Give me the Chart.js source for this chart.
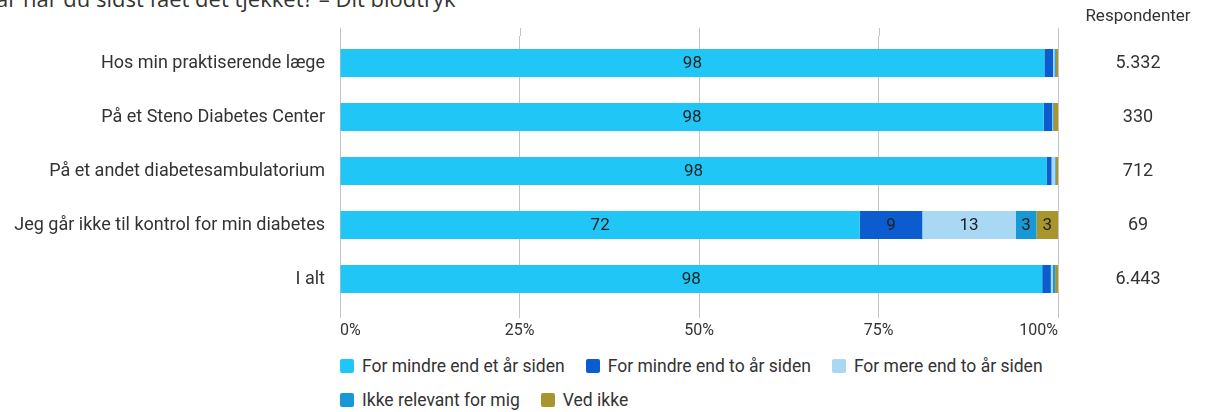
<!DOCTYPE html>
<html lang="da">
<head>
    <meta charset="UTF-8">
    <title>Kontrol - stablet søjlediagram</title>
    <script src="https://cdn.jsdelivr.net/npm/chart.js"></script>
    <style>
        body { margin: 0; background: #fff; overflow: hidden; }
        #wrap { position: relative; width: 1206px; height: 412px; }
        #heading {
            position: absolute; left: -4px; top: -17px; margin: 0;
            font: 22px "Open Sans", sans-serif; color: #333; white-space: nowrap;
        }
        #chart { position: absolute; left: 0; top: 0; }
        #legend {
            position: absolute; left: 340px; top: 349px; width: 760px;
            display: flex; flex-wrap: wrap;
            font: 17.5px Roboto, sans-serif; color: #333;
        }
        .item { display: flex; align-items: center; height: 34px; margin-right: 21px; }
        .box { width: 14px; height: 14px; border-radius: 2px; margin-right: 8px; }
    </style>
</head>
<body>
    <div id="wrap">
        <p id="heading">år har du sidst fået det tjekket? – Dit blodtryk</p>
        <canvas id="chart" width="1206" height="340"></canvas>
        <div id="legend"></div>
    </div>

    <script>
        // data
        const categories = [
            'Hos min praktiserende læge',
            'På et Steno Diabetes Center',
            'På et andet diabetesambulatorium',
            'Jeg går ikke til kontrol for min diabetes',
            'I alt'
        ];
        const seriesNames = [
            'For mindre end et år siden',
            'For mindre end to år siden',
            'For mere end to år siden',
            'Ikke relevant for mig',
            'Ved ikke'
        ];
        const underEtAar = [98.1, 98.0, 98.4, 72.4, 97.8];
        const underToAar = [1.2, 1.2, 0.7, 8.7, 1.2];
        const overToAar = [0.2, 0.1, 0.5, 13.0, 0.3];
        const ikkeRelevant = [0.2, 0.1, 0.1, 2.9, 0.3];
        const vedIkke = [0.3, 0.6, 0.3, 3.0, 0.4];
        const respondenter = [5332, 330, 712, 69, 6443];
        const xTicks = [0, 25, 50, 75, 100];

        const colors = ['#20c6f6', '#0b5dcf', '#a9d8f4', '#1898d4', '#a8952e'];
        const values = [underEtAar, underToAar, overToAar, ikkeRelevant, vedIkke];

        const fontFamily = 'Roboto, sans-serif';
        const textColor = '#333';

        function formatDk(n) {
            return String(n).replace(/\B(?=(\d{3})+(?!\d))/g, '.');
        }

        // forklaring under grafen
        const legendEl = document.getElementById('legend');
        seriesNames.forEach((name, i) => {
            const item = document.createElement('div');
            item.className = 'item';
            const box = document.createElement('span');
            box.className = 'box';
            box.style.background = colors[i];
            item.appendChild(box);
            item.appendChild(document.createTextNode(name));
            legendEl.appendChild(item);
        });

        // tal inde i søjlerne + respondentkolonne + små streger over grafen
        const extras = {
            id: 'extras',
            afterDatasetsDraw(chart) {
                const ctx = chart.ctx;
                ctx.save();
                ctx.font = '17px ' + fontFamily;
                ctx.fillStyle = '#222';
                ctx.textAlign = 'center';
                ctx.textBaseline = 'middle';
                chart.data.datasets.forEach((ds, i) => {
                    const meta = chart.getDatasetMeta(i);
                    meta.data.forEach((bar, j) => {
                        const v = ds.data[j];
                        if (v < 2.5) return;
                        const p = bar.getProps(['x', 'y', 'base']);
                        ctx.fillText(Math.round(v), (p.x + p.base) / 2, p.y + 1);
                    });
                });
                ctx.restore();
            },
            afterDraw(chart) {
                const ctx = chart.ctx;
                const area = chart.chartArea;
                const xs = chart.scales.x;
                const ys = chart.scales.y;
                ctx.save();
                ctx.strokeStyle = '#c4c4c4';
                ctx.lineWidth = 1;
                xTicks.forEach(t => {
                    const x = Math.round(xs.getPixelForValue(t)) + 0.5;
                    ctx.beginPath();
                    ctx.moveTo(x, area.top - 8);
                    ctx.lineTo(x, area.top);
                    ctx.stroke();
                });
                const colX = 1138;
                ctx.fillStyle = textColor;
                ctx.textAlign = 'center';
                ctx.textBaseline = 'middle';
                ctx.font = '17px ' + fontFamily;
                ctx.fillText('Respondenter', colX, 17);
                ctx.font = '18px ' + fontFamily;
                respondenter.forEach((n, j) => {
                    ctx.fillText(formatDk(n), colX, ys.getPixelForValue(j));
                });
                ctx.restore();
            }
        };

        new Chart(document.getElementById('chart'), {
            type: 'bar',
            data: {
                labels: categories,
                datasets: seriesNames.map((name, i) => ({
                    label: name,
                    data: values[i],
                    backgroundColor: colors[i],
                    borderWidth: 0,
                    barPercentage: 0.52,
                    categoryPercentage: 1
                }))
            },
            options: {
                indexAxis: 'y',
                responsive: false,
                animation: false,
                layout: { padding: { top: 36, right: 148, bottom: 0, left: 0 } },
                scales: {
                    x: {
                        stacked: true,
                        min: 0,
                        max: 100,
                        afterBuildTicks(scale) {
                            scale.ticks = xTicks.map(v => ({ value: v }));
                        },
                        afterFit(scale) { scale.height = 34; },
                        grid: { color: '#c4c4c4', tickLength: 12, drawTicks: true },
                        border: { display: false },
                        ticks: {
                            align: 'inner',
                            padding: 3,
                            color: textColor,
                            font: { family: fontFamily, size: 16 },
                            callback: v => v + '%'
                        }
                    },
                    y: {
                        stacked: true,
                        afterFit(scale) { scale.width = 340; },
                        grid: { display: false, drawTicks: false },
                        border: { display: false },
                        ticks: {
                            padding: 15,
                            color: textColor,
                            font: { family: fontFamily, size: 18 }
                        }
                    }
                },
                plugins: {
                    tooltip: { enabled: false },
                    legend: { display: false }
                }
            },
            plugins: [extras]
        });
    </script>
</body>
</html>
